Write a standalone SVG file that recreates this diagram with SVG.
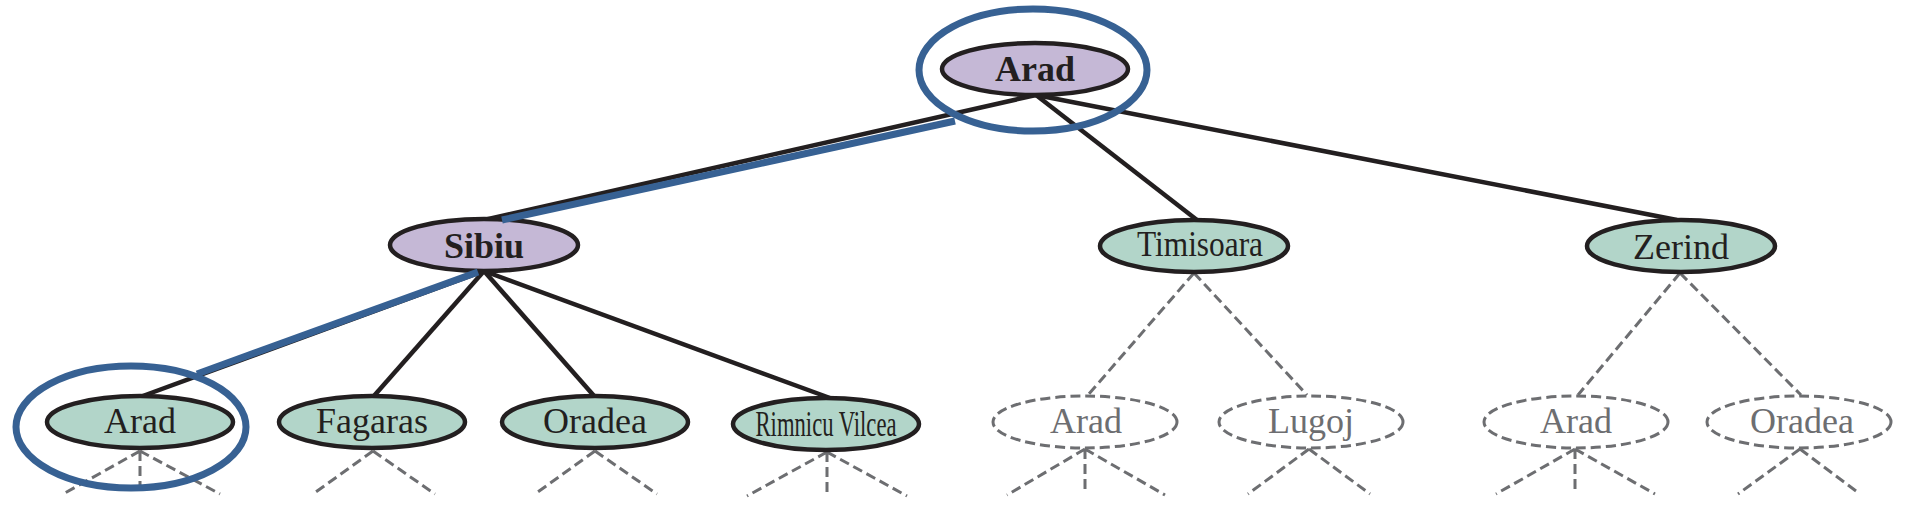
<svg xmlns="http://www.w3.org/2000/svg" width="1908" height="514" viewBox="0 0 1908 514">
  <style>
    .node { stroke: #231f20; stroke-width: 4.5; }
    .green { fill: #b2d5c9; }
    .purple { fill: #c5b8d6; }
    .ghost { fill: none; stroke: #6d6e71; stroke-width: 3; stroke-dasharray: 10 5; }
    .lbl { font-family: "Liberation Serif", "Times New Roman", serif; font-size: 36px; fill: #231f20; text-anchor: middle; }
    .bold { font-weight: bold; }
    .glbl { fill: #6d6e71; }
    .edge { stroke: #231f20; stroke-width: 4.5; fill: none; }
    .dash { stroke: #6d6e71; stroke-width: 3; stroke-dasharray: 10 5; fill: none; }
    .hl { stroke: #376193; stroke-width: 7; fill: none; }
  </style>
  <rect width="1908" height="514" fill="#ffffff"/>

  <g id="connectors">
    <!-- solid edges -->
    <line class="edge" x1="1036" y1="95" x2="484" y2="220"/>
    <line class="edge" x1="1036" y1="95" x2="1197" y2="220"/>
    <line class="edge" x1="1036" y1="95" x2="1677" y2="220"/>
    <line class="edge" x1="484" y1="271" x2="140" y2="397"/>
    <line class="edge" x1="484" y1="271" x2="373" y2="397"/>
    <line class="edge" x1="484" y1="271" x2="595" y2="397"/>
    <line class="edge" x1="484" y1="271" x2="830" y2="398"/>
    <!-- dashed edges to unexpanded children -->
    <line class="dash" x1="1194" y1="273" x2="1088" y2="395"/>
    <line class="dash" x1="1194" y1="273" x2="1307" y2="395"/>
    <line class="dash" x1="1680" y1="273" x2="1578" y2="395"/>
    <line class="dash" x1="1680" y1="273" x2="1801" y2="395"/>
    <!-- stubs -->
    <path class="dash" d="M140 451 L63 494 M140 451 L140 494 M140 451 L220 494"/>
    <path class="dash" d="M373 451 L313 494 M373 451 L435 494"/>
    <path class="dash" d="M595 451 L535 494 M595 451 L657 494"/>
    <path class="dash" d="M827 452 L747 496 M827 452 L827 493 M827 452 L907 496"/>
    <path class="dash" d="M1085 449 L1007 495 M1085 449 L1085 494 M1085 449 L1165 495"/>
    <path class="dash" d="M1309 449 L1248 494 M1309 449 L1370 494"/>
    <path class="dash" d="M1575 449 L1496 494 M1575 449 L1575 493 M1575 449 L1655 494"/>
    <path class="dash" d="M1800 449 L1738 494 M1800 449 L1860 494"/>
  </g>

  <g id="node-arad-root">
    <ellipse class="node purple" cx="1035" cy="69" rx="93" ry="26"/>
    <text class="lbl bold" x="1035" y="81">Arad</text>
  </g>
  <g id="node-sibiu">
    <ellipse class="node purple" cx="484" cy="245" rx="94" ry="26"/>
    <text class="lbl bold" x="484" y="258">Sibiu</text>
  </g>
  <g id="node-timisoara">
    <ellipse class="node green" cx="1194" cy="246" rx="94" ry="26"/>
    <text class="lbl" x="1200" y="256" font-size="34" textLength="126" lengthAdjust="spacingAndGlyphs">Timisoara</text>
  </g>
  <g id="node-zerind">
    <ellipse class="node green" cx="1681" cy="246" rx="94" ry="26"/>
    <text class="lbl" x="1681" y="259">Zerind</text>
  </g>
  <g id="node-arad-1">
    <ellipse class="node green" cx="140" cy="422" rx="93" ry="26"/>
    <text class="lbl" x="140" y="433">Arad</text>
  </g>
  <g id="node-fagaras">
    <ellipse class="node green" cx="372" cy="422" rx="93" ry="26"/>
    <text class="lbl" x="372" y="433">Fagaras</text>
  </g>
  <g id="node-oradea">
    <ellipse class="node green" cx="595" cy="422" rx="93" ry="26"/>
    <text class="lbl" x="595" y="433">Oradea</text>
  </g>
  <g id="node-rimnicu">
    <ellipse class="node green" cx="826" cy="424" rx="93" ry="26"/>
    <text class="lbl" x="826" y="436" font-size="33" textLength="141" lengthAdjust="spacingAndGlyphs">Rimnicu Vilcea</text>
  </g>
  <g id="node-arad-2">
    <ellipse class="ghost" cx="1085" cy="422" rx="92" ry="26"/>
    <text class="lbl glbl" x="1086" y="433">Arad</text>
  </g>
  <g id="node-lugoj">
    <ellipse class="ghost" cx="1311" cy="422" rx="92" ry="26"/>
    <text class="lbl glbl" x="1311" y="433">Lugoj</text>
  </g>
  <g id="node-arad-3">
    <ellipse class="ghost" cx="1576" cy="422" rx="92" ry="26"/>
    <text class="lbl glbl" x="1576" y="433">Arad</text>
  </g>
  <g id="node-oradea-2">
    <ellipse class="ghost" cx="1799" cy="422" rx="92" ry="26"/>
    <text class="lbl glbl" x="1802" y="433">Oradea</text>
  </g>

  <g id="highlight">
    <line class="hl" x1="955" y1="121" x2="502" y2="220"/>
    <line class="hl" x1="478" y1="272" x2="197" y2="374"/>
    <ellipse class="hl" cx="1033" cy="70" rx="114" ry="61"/>
    <ellipse class="hl" cx="131" cy="427" rx="115" ry="61"/>
  </g>
</svg>
